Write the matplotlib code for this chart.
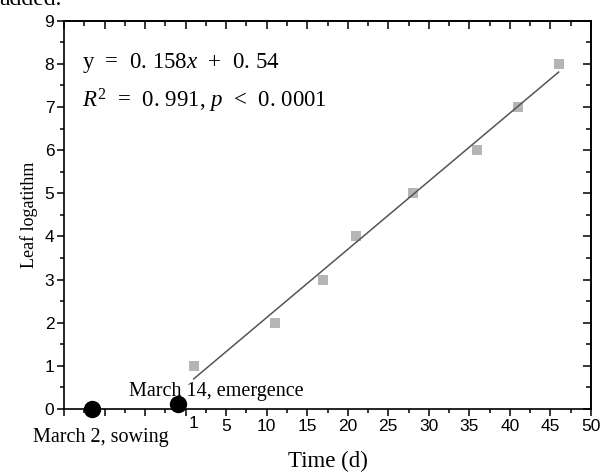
import matplotlib
matplotlib.use("Agg")
import matplotlib.pyplot as plt
import numpy as np
from matplotlib.ticker import MultipleLocator, FixedLocator, NullFormatter
import matplotlib.transforms as mtransforms

# ---- data ----
days = [1, 11, 17, 21, 28, 36, 41, 46]
leaves = [1, 2, 3, 4, 5, 6, 7, 8]
slope = 0.158
intercept = 0.54
event_x = [-11.6, -0.9]
event_y = [0.0, 0.12]
event_labels = ["March 2, sowing", "March 14, emergence"]
xtick_values = [5, 10, 15, 20, 25, 30, 35, 40, 45, 50]
extra_xtick_value = 1
ytick_values = [0, 1, 2, 3, 4, 5, 6, 7, 8, 9]

plt.rcParams['mathtext.fontset'] = 'custom'
plt.rcParams['mathtext.rm'] = 'Liberation Serif'
plt.rcParams['mathtext.it'] = 'Liberation Serif:italic'

SERIF = 'Liberation Serif'
SANS = 'Liberation Sans'
TICKSIZE = 12.5

fig = plt.figure(figsize=(6.03, 4.75), dpi=100)
ax = fig.add_axes([64/603, (475-409)/475, (591-64)/603, (409-20.7)/475])

ax.set_xlim(-15, 50)
ax.set_ylim(0, 9)

# data
ax.plot(days, leaves, linestyle='none', marker='s', markersize=7,
        color='#b5b5b5', markeredgewidth=0)
fx = np.array([min(days), max(days)], dtype=float)
ax.plot(fx, slope*fx + intercept, color='#555555', linewidth=1.1)
ax.plot(event_x, event_y, linestyle='none', marker='o', markersize=11.5,
        color='black', clip_on=False, zorder=5)

# event labels
ax.text(-10.4, -0.66, event_labels[0], ha='center', va='center',
        fontsize=14.5, family=SERIF, clip_on=False)
ax.text(3.75, 0.40, event_labels[1], ha='center', va='center',
        fontsize=14.5, family=SERIF, clip_on=False)

# equation
ax.text(-12.8, 8.02, r"y  =  0. 158$x$  +  0. 54", ha='left', va='center',
        fontsize=16.5, family=SERIF)
ax.text(-12.8, 7.13, r"$R^2$  =  0. 991, $p$  <  0. 0001", ha='left', va='center',
        fontsize=16.5, family=SERIF)

# spines
for s in ax.spines.values():
    s.set_linewidth(1.2)

# ticks
ax.set_xticks(list(np.arange(-15, 51, 5)))
ax.set_xticklabels([str(v) if v in xtick_values else '' for v in np.arange(-15, 51, 5)])
ax.xaxis.set_minor_locator(MultipleLocator(2.5))
ax.set_yticks(ytick_values)
ax.set_yticklabels([str(v) for v in ytick_values])
ax.yaxis.set_minor_locator(MultipleLocator(0.5))

ax.tick_params(axis='both', which='major', direction='out', length=5, width=1.1,
               labelsize=TICKSIZE, pad=2)
ax.tick_params(axis='both', which='minor', direction='out', length=3, width=1.1)
for lab in ax.get_xticklabels() + ax.get_yticklabels():
    lab.set_family(SANS)

# mirrored inward ticks on top/right
axt = ax.secondary_xaxis('top')
axt.xaxis.set_major_locator(MultipleLocator(5))
axt.xaxis.set_minor_locator(MultipleLocator(2.5))
axt.tick_params(which='major', direction='in', length=6, width=1.1, labeltop=False)
axt.tick_params(which='minor', direction='in', length=3.5, width=1.1)
axt.xaxis.set_major_formatter(NullFormatter())
axt.spines['top'].set_linewidth(1.2)

axr = ax.secondary_yaxis('right')
axr.yaxis.set_major_locator(MultipleLocator(1))
axr.yaxis.set_minor_locator(MultipleLocator(0.5))
axr.tick_params(which='major', direction='in', length=6, width=1.1, labelright=False)
axr.tick_params(which='minor', direction='in', length=3.5, width=1.1)
axr.yaxis.set_major_formatter(NullFormatter())
axr.spines['right'].set_linewidth(1.2)

# "1" label placed at x = 1 (no tick mark there)
trans = mtransforms.blended_transform_factory(ax.transData, ax.transAxes)
ax.annotate(str(extra_xtick_value), xy=(extra_xtick_value, 0), xycoords=trans,
            xytext=(0, -5.2), textcoords='offset points', ha='center', va='top',
            fontsize=TICKSIZE, family=SANS, annotation_clip=False)

# axis labels
ax.set_xlabel("Time (d)", fontsize=16.5, family=SERIF, labelpad=12)
ax.set_ylabel("Leaf logatithm", fontsize=13, family=SERIF, labelpad=5)

# clipped caption fragment at the very top
fig.text(-0.002, 1 - 5/475, "added.", ha='left', va='baseline',
         fontsize=17, family=SERIF)

fig.savefig("out.png", dpi=100)
